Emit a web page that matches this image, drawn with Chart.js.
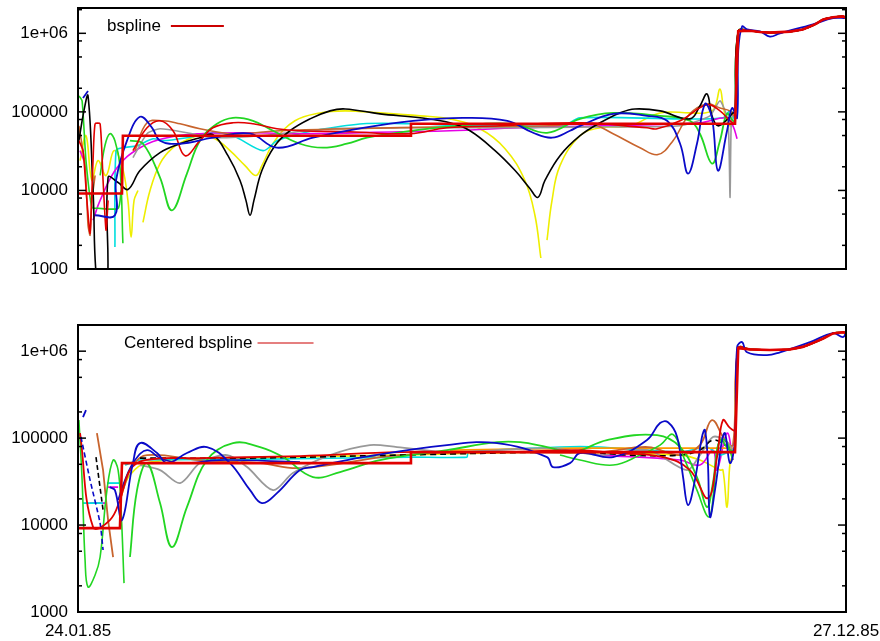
<!DOCTYPE html>
<html>
<head>
<meta charset="utf-8">
<script src="https://cdn.jsdelivr.net/npm/chart.js@4.4.1/dist/chart.umd.min.js"></script>
<style>
  html, body { margin: 0; padding: 0; background: #fff; }
  #wrap { position: relative; width: 880px; height: 641px; overflow: hidden; }
  canvas { position: absolute; left: 0; }
  #top { top: 0; }
  #bottom { top: 285px; }
</style>
</head>
<body>
<div id="wrap">
  <canvas id="top" width="880" height="285"></canvas>
  <canvas id="bottom" width="880" height="356"></canvas>
</div>
<script>
// x = days since 24.01.85, y = value
const xTickDays = [0, 337];
const xTickLabels = ['24.01.85', '27.12.85'];
const yTickValues = [1000, 10000, 100000, 1000000];
const yTickLabels = ['1000', '10000', '100000', '1e+06'];
const yMinorSteps = [2, 5, 8];
const topYMax = 2100000;
const bottomYMax = 2000000;

// ---- top panel: bspline ----
const topPlateau = [[289.7, 1.06e6], [294.9, 1.08e6], [299.3, 1.04e6], [303.6, 1.02e6], [312.4, 1.05e6], [318.0, 1.12e6], [323.4, 1.3e6], [327.0, 1.5e6], [331.3, 1.6e6], [335.7, 1.64e6], [337, 1.58e6]];
const topRedStep = [[0, 9160], [19.3, 9160], [19.7, 49700], [145.7, 49700], [146.1, 70500], [288.3, 70500]];
const topBlueDash = [[2.2, 150000], [4.4, 184000]];
const topBlue = [[7.5, 4830], [16.2, 4830], [16.7, 13400], [21.5, 43000], [27.2, 86500], [32.5, 62700], [36.0, 43000], [44.8, 39300], [59.2, 46900], [75.5, 52700], [87.3, 35000], [103.1, 46900], [125.1, 62700], [147.0, 77000], [168.9, 84000], [188.4, 77000], [199.7, 54200], [208.0, 46900], [215.9, 57500], [220.3, 66500], [234.8, 94400], [249.7, 89000], [258.5, 77000], [264.2, 39300], [267.7, 16400], [271.6, 39300], [275.1, 126000], [278.2, 84000], [280.8, 17900], [284.8, 57500], [287.0, 112000], [289.2, 84000], [289.7, 590000], [291.4, 1.22e6], [293.6, 1.12e6], [299.3, 1.06e6], [303.6, 910000], [308.0, 1e6], [322.5, 1.3e6], [331.3, 1.56e6], [337, 1.56e6]];
const topRedEarly = [[0.4, 43000], [2.2, 32100], [3.9, 7470], [5.3, 2860], [6.6, 24000], [7.5, 70500], [9.7, 70500], [11.0, 13400], [12.3, 3120], [13.2, 7470]];
const topRed = [[24.1, 32100], [30.3, 62700], [36.0, 77000], [41.7, 57500], [47.0, 27700], [53.5, 43000], [59.2, 62700], [68.0, 72600], [76.8, 70500], [87.3, 61000], [97.4, 57500], [119.4, 55800], [145.7, 52700], [161.9, 62700], [185.2, 66500], [220.3, 72600], [249.7, 62700], [254.1, 61000], [264.2, 77000], [276.0, 123000], [281.7, 103000], [286.1, 77000], [288.3, 72600]];
const topBlack = [[0.4, 43000], [2.6, 103000], [4.4, 160000], [6.6, 10000], [8.8, 500], [12.7, 500], [13.2, 14600], [17.6, 12600], [21.9, 10300], [27.2, 17900], [36.0, 30300], [44.8, 39300], [53.5, 46900], [59.2, 51200], [65.8, 27700], [71.1, 13400], [73.7, 7470], [75.5, 4830], [77.2, 7470], [80.7, 17900], [86.4, 37100], [93.0, 57500], [101.8, 81500], [110.6, 103000], [117.2, 109000], [132.5, 94400], [150.1, 84000], [163.2, 72600], [172.0, 57500], [183.0, 32100], [191.8, 17900], [198.3, 10600], [201.8, 8150], [204.9, 13400], [211.5, 27700], [220.3, 49700], [229.1, 72600], [237.8, 97000], [244.4, 109000], [255.4, 103000], [268.5, 81500], [272.9, 119000], [276.0, 169000], [278.2, 89000], [280.8, 66500], [285.2, 81500], [287.4, 97000], [288.3, 97000]];
const topGreenStep = [[0.4, 160000], [1.8, 138000], [3.5, 24000], [6.1, 6090], [8.8, 5920], [17.6, 5920], [18.9, 10000]];
const topGreenEarly = [[9.7, 15500], [11.8, 37100], [14.0, 52700], [16.2, 43000], [18.4, 20700], [19.7, 2130]];
const topGreen = [[22.8, 43000], [28.5, 39300], [36.0, 14600], [41.2, 5580], [47.8, 16400], [53.5, 43000], [61.0, 70500], [68.0, 84000], [76.8, 77000], [85.6, 57500], [97.4, 39300], [107.5, 35000], [118.0, 39300], [126.8, 46900], [147.0, 57500], [166.3, 66500], [190.9, 70500], [205.8, 54200], [220.3, 81500], [234.8, 97000], [255.4, 89000], [268.5, 77000], [272.9, 52700], [278.2, 22000], [281.7, 43000], [284.8, 94400], [287.4, 77000], [288.3, 77000]];
const topOrangeEarly = [[0.4, 66500], [3.1, 20700], [4.4, 3600], [5.3, 2690], [6.1, 7470], [7.5, 15500]];
const topOrange = [[25.0, 32100], [30.3, 72600], [37.3, 77000], [44.8, 70500], [53.5, 61000], [68.0, 52700], [88.6, 57500], [119.4, 61000], [163.2, 64500], [207.1, 66500], [224.7, 70500], [234.8, 52700], [246.6, 35000], [254.5, 28600], [261.1, 43000], [268.5, 94400], [276.0, 126000], [281.7, 112000], [286.1, 103000], [288.3, 89000]];
const topGray = [[24.1, 26100], [30.3, 52700], [36.0, 61000], [47.8, 54200], [59.2, 46900], [79.9, 49700], [110.6, 61000], [141.3, 62700], [185.2, 62700], [229.1, 64500], [264.2, 66500], [277.3, 89000], [281.7, 138000], [285.2, 77000], [286.1, 8150], [286.6, 66500], [287.4, 103000]];
const topMagentaEarly = [[0.9, 32100], [2.6, 24000]];
const topMagenta = [[6.6, 4170], [9.7, 7470], [17.1, 19500], [27.2, 35000], [39.1, 46900], [53.5, 52700], [75.5, 54200], [97.4, 52700], [141.3, 55800], [163.2, 57500], [194.0, 62700], [229.1, 66500], [272.9, 72600], [284.8, 84000], [287.4, 66500], [289.2, 45500]];
const topCyan = [[16.2, 1900], [16.7, 32100], [19.7, 35000], [25.9, 37100], [32.9, 45500], [37.3, 43000], [47.8, 46900], [59.2, 54200], [68.0, 49700], [81.2, 32100], [87.3, 43000], [97.4, 52700], [103.1, 57500], [125.1, 70500], [147.0, 70500], [168.9, 66500], [190.9, 66500], [212.8, 66500], [220.3, 84000], [264.2, 81500], [283.0, 84000], [286.1, 103000], [288.3, 77000]];
const topYellow = [[0.9, 24000], [3.5, 49700], [6.1, 13400], [8.8, 24000], [12.3, 15500], [15.8, 32100], [19.3, 20700], [21.9, 7470], [23.3, 2540], [24.6, 7470], [26.3, 10000], [27.0, null],
  [28.5, 3930], [31.6, 10000], [36.0, 22000], [41.2, 34000], [47.0, 43000], [53.5, 49700], [60.1, 45500], [66.7, 32100], [73.3, 20700], [78.1, 15500], [80.7, 20700], [86.4, 43000], [95.2, 77000], [106.2, 97000], [117.2, 103000], [132.5, 97000], [150.1, 89000], [163.2, 81500], [176.4, 61000], [187.4, 34000], [196.1, 13400], [200.5, 4830], [203.1, 1380], [204.0, null],
  [205.8, 2330], [208.0, 7470], [211.5, 20700], [220.3, 49700], [229.1, 62700], [242.2, 66500], [255.4, 97000], [268.5, 97000], [275.1, 97000], [279.1, 109000], [281.7, 195000], [283.5, 103000], [286.1, 66500], [288.3, 77000]];

// ---- bottom panel: centered bspline ----
const bottomPlateau = [[289.7, 1.08e6], [294.9, 1.05e6], [303.6, 1.03e6], [312.4, 1.05e6], [318.0, 1.12e6], [323.4, 1.27e6], [327.0, 1.4e6], [331.3, 1.6e6], [335.7, 1.65e6], [337, 1.62e6]];
const bottomRedStep = [[0, 9230], [18.4, 9230], [19.3, 51600], [145.7, 51600], [146.1, 69000], [288.3, 69000]];
const bottomRed = [[0.9, 114000], [6.6, 9490], [14.0, 11400], [18.4, 19400], [22.8, 42900], [29.4, 55900], [53.5, 58900], [97.4, 62000], [141.3, 69000], [185.2, 69000], [220.3, 72800], [234.8, 67400], [256.7, 60500], [268.5, 42900], [276.4, 20400], [280.4, 60500], [283.0, 161000], [286.1, 131000], [288.3, 124000]];
const bottomBlueDash = [[2.2, 174000], [3.5, 210000]];
const bottomBlueEarly = [[1.3, 103000], [5.3, 32900], [9.7, 10500], [11.0, 5160]];
const bottomBlue = [[14.0, 27300], [16.2, 25200], [19.3, 11400], [24.1, 51600], [27.2, 87700], [34.7, 67400], [39.1, 51600], [47.8, 67400], [56.6, 78900], [66.7, 51600], [75.5, 25200], [80.7, 17900], [87.3, 23300], [97.4, 42900], [103.1, 46500], [125.1, 60500], [161.9, 83200], [183.9, 87700], [205.8, 60500], [208.4, 46500], [215.9, 51600], [220.3, 67400], [234.8, 60500], [249.7, 94900], [255.4, 149000], [258.9, 152000], [262.9, 103000], [265.5, 35700], [267.7, 17000], [270.7, 32900], [273.8, 103000], [275.1, 124000], [276.4, 51600], [277.3, 12400], [279.5, 25200], [282.6, 94900], [283.9, 114000], [286.1, 51600], [288.3, 94900], [289.2, 1.11e6], [291.4, 1.27e6], [293.6, 970000], [302.3, 900000], [308.0, 970000], [321.2, 1.27e6], [331.3, 1.61e6], [335.7, 1.45e6], [337, 1.65e6]];
const bottomBlue2 = [[17.6, 19400], [20.6, 32900], [25.0, 55900], [30.3, 72800], [36.0, 58900], [44.8, 51600], [62.3, 55900], [97.4, 53000]];
const bottomGreenEarly = [[0.4, 161000], [1.8, 32900], [3.1, 3960], [4.4, 1940], [7.5, 2660], [9.7, 4290], [12.7, 25200], [15.4, 55900], [17.6, 42900], [18.9, 14900], [20.2, 2150]];
const bottomGreen = [[22.8, 4290], [25.9, 25200], [30.3, 51600], [36.0, 17900], [41.2, 5580], [47.8, 16100], [56.6, 55900], [68.0, 87700], [79.9, 78900], [90.0, 60500], [103.1, 35700], [115.0, 40700], [132.5, 55900], [161.9, 72800], [183.9, 89900], [194.0, 89900], [205.8, 78900], [217.2, 69000], [232.1, 94900], [254.1, 108000], [264.2, 78900], [271.6, 35700], [276.0, 16100], [278.6, 30400], [281.7, 94900], [286.1, 72800], [288.3, 72800]];
const bottomGreen2 = [[211.5, 63800], [220.3, 55900], [234.8, 49000], [246.6, 63800], [255.4, 83200], [261.1, 110000], [266.3, 55900], [271.6, 25200], [276.8, 12400], [279.0, 25200], [280.8, 83200], [283.9, 94900], [287.4, 55900]];
const bottomGray = [[27.2, 49000], [36.0, 42900], [44.8, 30400], [53.5, 51600], [65.4, 63800], [74.2, 46500], [85.6, 25200], [94.3, 39700], [110.6, 63800], [128.1, 83200], [140.0, 78900], [163.2, 69000], [207.1, 76800], [229.1, 63800], [250.1, 72800], [267.2, 42900], [272.9, 63800], [278.6, 103000], [283.9, 94900], [287.4, 72800]];
const bottomBrownEarly = [[8.3, 114000], [11.0, 42900], [13.2, 11400], [15.4, 4290]];
const bottomBrown = [[19.7, 25200], [24.1, 49000], [30.3, 63800], [53.5, 55900], [79.9, 51600], [97.4, 45200], [141.3, 63800], [185.2, 69000], [229.1, 69000], [250.1, 78900], [264.2, 63800], [272.9, 83200], [278.2, 161000], [283.9, 94900], [287.4, 83200]];
const bottomOrangeFlat = [[163.2, 72800], [220.3, 76700], [288.3, 76700]];
const bottomCyanStep1 = [[2.2, 17900], [11.0, 17900]];
const bottomCyanStep2 = [[12.7, 30400], [18.4, 30400]];
const bottomCyan = [[20.6, 49000], [27.2, 55900], [75.5, 57000], [145.7, 60500], [170.7, 60500], [171.1, 69000], [211.5, 78900], [229.1, 78900], [264.2, 69000], [276.0, 78900], [281.7, 63800], [287.4, 72800]];
const bottomMagentaStep1 = [[5.3, 17900], [12.7, 17900]];
const bottomMagentaStep2 = [[13.2, 27300], [17.6, 27300]];
const bottomMagenta = [[229.1, 63800], [264.2, 55900], [272.9, 49000], [278.6, 72800], [280.4, 42900], [284.8, 114000], [287.4, 55900]];
const bottomYellow = [[18.4, 19400], [22.8, 37600], [31.6, 53000], [75.5, 58900], [141.3, 63800], [207.1, 69000], [264.2, 63800], [272.9, 55900], [281.7, 42900], [283.0, 42900], [284.8, 16100], [286.1, 51600], [287.4, 63800]];
const bottomBlackEarly = [[7.9, 60500], [11.0, 14900]];
const bottomBlack = [[27.2, 58900], [75.5, 58900], [141.3, 63800], [220.3, 69000], [242.2, 63800], [264.2, 63800], [272.9, 72800], [278.6, 94900], [283.9, 83200], [287.4, 72800]];

const RED = '#e00000', GREEN = '#22d622', BLUE = '#0a0ac8', MAGENTA = '#e600e6', CYAN = '#00dede';
const BROWN = '#c8642d', ORANGE = '#ff9a00', GRAY = '#999999', BLACK = '#000000', YELLOW = '#eeee00';
const font = '"Liberation Sans", Arial, sans-serif';

function ds(data, color, width, extra) {
  return Object.assign({ data: data, borderColor: color, borderWidth: width, pointRadius: 0, tension: 0.4, fill: false }, extra || {});
}

function line(ctx, x1, y1, x2, y2) {
  ctx.beginPath(); ctx.moveTo(x1, y1); ctx.lineTo(x2, y2); ctx.stroke();
}

// gnuplot style box, inward ticks and key
const gnuFrame = {
  id: 'gnuFrame',
  afterDatasetsDraw(chart, args, opts) {
    const { ctx, chartArea: a } = chart;
    const xs = chart.scales.x, ys = chart.scales.y;
    ctx.save();
    ctx.strokeStyle = '#000';
    ctx.lineWidth = 1.5;
    yTickValues.forEach(v => {
      const py = ys.getPixelForValue(v);
      line(ctx, a.left, py, a.left + 8, py);
      line(ctx, a.right - 8, py, a.right, py);
      yMinorSteps.forEach(m => {
        if (v * m >= ys.max) return;
        const my = ys.getPixelForValue(v * m);
        line(ctx, a.left, my, a.left + 4, my);
        line(ctx, a.right - 4, my, a.right, my);
      });
    });
    xTickDays.forEach(d => {
      const px = xs.getPixelForValue(d);
      line(ctx, px, a.bottom, px, a.bottom - 8);
      line(ctx, px, a.top, px, a.top + 8);
    });
    ctx.lineWidth = 2;
    ctx.strokeRect(a.left, a.top, a.right - a.left, a.bottom - a.top);

    ctx.font = '17px ' + font;
    ctx.fillStyle = '#000';
    ctx.textBaseline = 'middle';
    const kx = a.left + opts.dx, ky = a.top + opts.dy;
    ctx.fillText(opts.text, kx, ky);
    const w = ctx.measureText(opts.text).width;
    ctx.strokeStyle = opts.color;
    ctx.lineWidth = opts.width;
    line(ctx, kx + w + opts.gap, ky, kx + w + opts.gap + opts.len, ky);
    ctx.restore();
  }
};

function makeChart(id, datasets, key, showDates, pad, yMax) {
  return new Chart(document.getElementById(id), {
    type: 'line',
    data: { datasets: datasets },
    options: {
      responsive: false,
      animation: false,
      devicePixelRatio: 1,
      layout: { padding: pad },
      plugins: {
        legend: { display: false },
        tooltip: { enabled: false },
        gnuFrame: key
      },
      scales: {
        x: {
          type: 'linear', min: 0, max: 337, display: showDates,
          grid: { display: false, drawTicks: false },
          border: { display: false },
          afterBuildTicks: s => { s.ticks = xTickDays.map(v => ({ value: v })); },
          afterFit: s => { s.height = showDates ? 29 : 0; s.paddingLeft = 0; s.paddingRight = 0; },
          ticks: {
            callback: (v, i) => xTickLabels[i],
            padding: 9, maxRotation: 0, autoSkip: false, color: '#000',
            font: { family: font, size: 17 }
          }
        },
        y: {
          type: 'logarithmic', min: 1000, max: yMax,
          grid: { display: false, drawTicks: false },
          border: { display: false },
          afterBuildTicks: s => { s.ticks = yTickValues.map(v => ({ value: v })); },
          afterFit: s => { s.width = 78; s.paddingTop = 0; s.paddingBottom = 0; },
          ticks: {
            callback: (v, i) => yTickLabels[i],
            padding: 10, color: '#000',
            font: { family: font, size: 17 }
          }
        }
      }
    },
    plugins: [gnuFrame]
  });
}

makeChart('top', [
  ds(topRedStep.concat(topPlateau), RED, 2.6, { tension: 0 }),
  ds(topBlue, BLUE, 1.8),
  ds(topBlueDash, BLUE, 1.8, { tension: 0 }),
  ds(topRed.concat(topPlateau), RED, 1.6),
  ds(topRedEarly, RED, 1.6, { tension: 0.2 }),
  ds(topBlack.concat(topPlateau), BLACK, 1.6),
  ds(topGreen.concat(topPlateau), GREEN, 1.8),
  ds(topGreenStep, GREEN, 1.6, { tension: 0.2 }),
  ds(topGreenEarly, GREEN, 1.6),
  ds(topOrange.concat(topPlateau), BROWN, 1.6),
  ds(topOrangeEarly, BROWN, 1.6, { tension: 0.2 }),
  ds(topGray, GRAY, 1.6, { tension: 0.2 }),
  ds(topMagenta, MAGENTA, 1.6),
  ds(topMagentaEarly, MAGENTA, 1.6, { tension: 0 }),
  ds(topCyan, CYAN, 1.6, { tension: 0.3 }),
  ds(topYellow, YELLOW, 1.6)
], { text: 'bspline', dx: 29, dy: 18, gap: 10, len: 53, color: '#cc0000', width: 2 }, false,
   { left: 0, top: 8, right: 34, bottom: 16 }, topYMax);

makeChart('bottom', [
  ds(bottomRedStep.concat(bottomPlateau), RED, 2.6, { tension: 0 }),
  ds(bottomBlue, BLUE, 1.8),
  ds(bottomBlueDash, BLUE, 1.8, { tension: 0 }),
  ds(bottomBlueEarly, BLUE, 1.6, { tension: 0.2, borderDash: [5, 3] }),
  ds(bottomRed.concat(bottomPlateau), RED, 1.8),
  ds(bottomBlue2, BLUE, 1.6),
  ds(bottomGreen.concat(bottomPlateau), GREEN, 1.8),
  ds(bottomGreen2, GREEN, 1.6),
  ds(bottomGreenEarly, GREEN, 1.6),
  ds(bottomBlack, BLACK, 1.6, { borderDash: [6, 4] }),
  ds(bottomBlackEarly, BLACK, 1.6, { tension: 0, borderDash: [5, 3] }),
  ds(bottomGray, GRAY, 1.8, { tension: 0.3 }),
  ds(bottomBrown.concat(bottomPlateau), BROWN, 1.8),
  ds(bottomBrownEarly, BROWN, 1.8, { tension: 0 }),
  ds(bottomOrangeFlat, ORANGE, 1.6, { tension: 0 }),
  ds(bottomCyan, CYAN, 1.6, { tension: 0.2 }),
  ds(bottomCyanStep1, CYAN, 1.8, { tension: 0 }),
  ds(bottomCyanStep2, CYAN, 1.8, { tension: 0 }),
  ds(bottomMagenta, MAGENTA, 1.6),
  ds(bottomMagentaStep1, MAGENTA, 1.8, { tension: 0 }),
  ds(bottomMagentaStep2, MAGENTA, 1.8, { tension: 0 }),
  ds(bottomYellow, YELLOW, 1.6)
], { text: 'Centered bspline', dx: 46, dy: 18, gap: 5, len: 56, color: '#cc0000', width: 1.2 }, true,
   { left: 0, top: 40, right: 34, bottom: 0 }, bottomYMax);
</script>
</body>
</html>
